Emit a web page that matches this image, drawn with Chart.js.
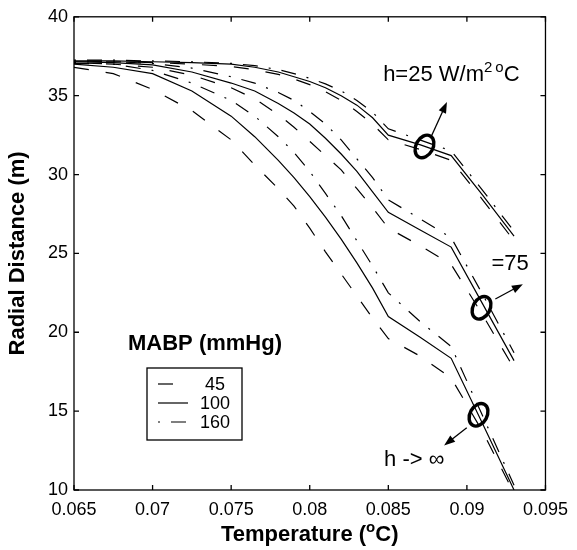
<!DOCTYPE html>
<html>
<head>
<meta charset="utf-8">
<script src="https://cdn.jsdelivr.net/npm/chart.js@4.4.1/dist/chart.umd.min.js"></script>
<style>
  html, body { margin: 0; padding: 0; background: #fff; }
</style>
</head>
<body>
<canvas id="chart" width="577" height="550"></canvas>
<script>
// temperature grid shared by all curves
const temps = [0.065, 0.0675, 0.070, 0.0725, 0.075, 0.0765, 0.078, 0.079, 0.080, 0.081, 0.082, 0.083, 0.084, 0.085, 0.087, 0.089, 0.091, 0.093];

// h = 25 W/m2 oC
const h25_45  = [37.15, 37.15, 37.1, 37.0, 36.85, 36.65, 36.35, 36.05, 35.7, 35.25, 34.7, 34.0, 33.2, 32.2, 31.6, 30.9, 28.4, 25.8];
const h25_100 = [37.2, 37.2, 37.15, 37.1, 37.0, 36.8, 36.5, 36.2, 35.9, 35.5, 35.0, 34.4, 33.6, 32.5, 31.9, 31.2, 28.7, 26.1];
const h25_160 = [37.25, 37.25, 37.2, 37.15, 37.05, 36.9, 36.65, 36.4, 36.1, 35.75, 35.3, 34.7, 33.95, 32.9, 32.2, 31.5, 29.0, 26.4];

// h = 75
const h75_45  = [37.05, 37.0, 36.8, 36.3, 35.5, 34.8, 33.8, 33.0, 32.1, 31.2, 30.3, 29.1, 27.9, 26.6, 25.5, 24.3, 21.1, 17.7];
const h75_100 = [37.15, 37.1, 36.95, 36.5, 35.8, 35.3, 34.5, 33.9, 33.2, 32.3, 31.3, 30.2, 28.9, 27.6, 26.5, 25.4, 21.8, 18.2];
const h75_160 = [37.2, 37.15, 37.05, 36.75, 36.2, 35.8, 35.2, 34.7, 34.0, 33.2, 32.2, 31.0, 29.8, 28.4, 27.2, 26.0, 22.4, 18.7];

// h -> infinity
const hinf_45  = [36.8, 36.4, 35.4, 34.05, 32.2, 30.6, 29.1, 28.0, 26.6, 25.1, 23.7, 22.3, 20.9, 19.6, 18.5, 17.1, 13.7, 9.8];
const hinf_100 = [37.0, 36.8, 36.4, 35.3, 33.7, 32.4, 30.9, 29.8, 28.6, 27.3, 25.9, 24.4, 22.8, 21.0, 19.7, 18.35, 14.2, 10.0];
const hinf_160 = [37.1, 37.0, 36.6, 35.8, 34.7, 33.7, 32.4, 31.4, 30.2, 28.8, 27.4, 25.8, 24.2, 22.5, 20.7, 19.1, 14.7, 10.3];

const mabpLabels = ['45', '100', '160'];
const xTicks = [0.065, 0.07, 0.075, 0.08, 0.085, 0.09, 0.095];
const xTickLabels = ['0.065', '0.07', '0.075', '0.08', '0.085', '0.09', '0.095'];
const yTicks = [10, 15, 20, 25, 30, 35, 40];

const FONT = '"Liberation Sans", Arial, Helvetica, sans-serif';
const dashes = [[15, 17], [], [2, 11, 15, 11]];

function pts(arr) {
    return temps.map((t, i) => ({x: t, y: arr[i]}));
}

const groups = [
    [h25_45, h25_100, h25_160],
    [h75_45, h75_100, h75_160],
    [hinf_45, hinf_100, hinf_160],
];
const datasets = [];
groups.forEach(g => {
    g.forEach((arr, k) => {
        datasets.push({
            label: mabpLabels[k],
            data: pts(arr),
            borderColor: '#000',
            borderWidth: 1.2,
            borderDash: dashes[k],
            pointRadius: 0,
            fill: false,
            tension: 0,
        });
    });
});

function arrow(ctx, x1, y1, x2, y2) {
    const a = Math.atan2(y2 - y1, x2 - x1);
    ctx.beginPath();
    ctx.moveTo(x1, y1);
    ctx.lineTo(x2 - 6 * Math.cos(a), y2 - 6 * Math.sin(a));
    ctx.stroke();
    ctx.beginPath();
    ctx.moveTo(x2, y2);
    ctx.lineTo(x2 - 11 * Math.cos(a) + 4 * Math.sin(a), y2 - 11 * Math.sin(a) - 4 * Math.cos(a));
    ctx.lineTo(x2 - 11 * Math.cos(a) - 4 * Math.sin(a), y2 - 11 * Math.sin(a) + 4 * Math.cos(a));
    ctx.closePath();
    ctx.fill();
}

// draws pieces of text one after another, some raised (superscripts)
function richText(ctx, parts, x, y, align) {
    let w = 0;
    parts.forEach(p => { ctx.font = p.font; w += ctx.measureText(p.t).width + (p.gap || 0); });
    let cx = align === 'center' ? x - w / 2 : x;
    ctx.textAlign = 'left';
    parts.forEach(p => {
        ctx.font = p.font;
        ctx.fillText(p.t, cx, y - (p.dy || 0));
        cx += ctx.measureText(p.t).width + (p.gap || 0);
    });
}

const framePlugin = {
    id: 'frame',
    afterDraw(chart) {
        const ctx = chart.ctx;
        const a = chart.chartArea;
        const xs = chart.scales.x, ys = chart.scales.y;
        ctx.save();
        ctx.strokeStyle = '#000';
        ctx.fillStyle = '#000';
        ctx.lineWidth = 1.3;
        ctx.strokeRect(a.left, a.top, a.right - a.left, a.bottom - a.top);

        // inward ticks on all four sides
        ctx.beginPath();
        xTicks.forEach(v => {
            const px = xs.getPixelForValue(v);
            ctx.moveTo(px, a.bottom); ctx.lineTo(px, a.bottom - 5);
            ctx.moveTo(px, a.top); ctx.lineTo(px, a.top + 5);
        });
        yTicks.forEach(v => {
            const py = ys.getPixelForValue(v);
            ctx.moveTo(a.left, py); ctx.lineTo(a.left + 5, py);
            ctx.moveTo(a.right, py); ctx.lineTo(a.right - 5, py);
        });
        ctx.stroke();

        // axis titles
        ctx.textBaseline = 'middle';
        ctx.save();
        ctx.translate(18, (a.top + a.bottom) / 2);
        ctx.rotate(-Math.PI / 2);
        ctx.font = 'bold 22px ' + FONT;
        ctx.textAlign = 'center';
        ctx.fillText('Radial Distance (m)', 0, 0);
        ctx.restore();

        ctx.textBaseline = 'alphabetic';
        richText(ctx, [
            {t: 'Temperature (', font: 'bold 22px ' + FONT},
            {t: 'o', font: 'bold 15px ' + FONT, dy: 9},
            {t: 'C)', font: 'bold 22px ' + FONT},
        ], (a.left + a.right) / 2, 541, 'center');

        // legend
        ctx.font = 'bold 22px ' + FONT;
        ctx.textAlign = 'center';
        ctx.fillText('MABP (mmHg)', 205, 350);
        ctx.lineWidth = 1.3;
        ctx.strokeRect(147, 368, 95, 72);
        ctx.font = '18px ' + FONT;
        ctx.textBaseline = 'middle';
        mabpLabels.forEach((lab, k) => {
            const y = 384 + k * 19;
            ctx.save();
            ctx.lineWidth = 1.2;
            ctx.setLineDash(dashes[k]);
            ctx.beginPath();
            ctx.moveTo(158, y); ctx.lineTo(188, y);
            ctx.stroke();
            ctx.restore();
            ctx.textAlign = 'center';
            ctx.fillText(lab, 215, y + 1);
        });

        // annotations
        ctx.textBaseline = 'alphabetic';
        const X = v => xs.getPixelForValue(v), Y = v => ys.getPixelForValue(v);
        richText(ctx, [
            {t: 'h=25 W/m', font: '22px ' + FONT},
            {t: '2', font: '15px ' + FONT, dy: 9, gap: 3},
            {t: 'o', font: '15px ' + FONT, dy: 9},
            {t: 'C', font: '22px ' + FONT},
        ], X(0.08467), Y(35.92), 'left');
        ctx.font = '22px ' + FONT;
        ctx.textAlign = 'left';
        ctx.fillText('=75', X(0.09156), Y(23.93));
        ctx.fillText('h -> \u221e', X(0.08473), Y(11.5));

        ctx.lineWidth = 1.3;
        arrow(ctx, X(0.08773), Y(32.41), X(0.08873), Y(34.6));
        arrow(ctx, X(0.09181), Y(22.11), X(0.09356), Y(23.05));
        arrow(ctx, X(0.08999), Y(13.95), X(0.08855), Y(12.82));

        ctx.lineWidth = 3.4;
        [[0.0873, 31.78], [0.09093, 21.55], [0.09074, 14.77]].forEach(p => {
            ctx.beginPath();
            ctx.ellipse(X(p[0]), Y(p[1]), 8.5, 12, 0.5, 0, Math.PI * 2);
            ctx.stroke();
        });
        ctx.restore();
    }
};

const tickFont = {family: FONT, size: 18};

new Chart(document.getElementById('chart'), {
    type: 'line',
    data: {datasets},
    options: {
        responsive: false,
        animation: false,
        devicePixelRatio: 1,
        layout: {padding: {left: 0, right: 24, top: 12, bottom: 0}},
        plugins: {legend: {display: false}, tooltip: {enabled: false}},
        scales: {
            x: {
                type: 'linear',
                min: 0.065,
                max: 0.095,
                afterBuildTicks: s => { s.ticks = xTicks.map(v => ({value: v})); },
                afterFit: s => { s.height = 60; },
                ticks: {
                    callback: (v, i) => xTickLabels[i],
                    color: '#000',
                    font: tickFont,
                    padding: 9,
                    maxRotation: 0,
                    autoSkip: false,
                },
                grid: {display: false, drawTicks: false},
                border: {display: false},
            },
            y: {
                type: 'linear',
                min: 10,
                max: 40,
                afterBuildTicks: s => { s.ticks = yTicks.map(v => ({value: v})); },
                afterFit: s => { s.width = 74; },
                ticks: {
                    callback: v => String(v),
                    color: '#000',
                    font: tickFont,
                    padding: 6,
                    autoSkip: false,
                },
                grid: {display: false, drawTicks: false},
                border: {display: false},
            }
        }
    },
    plugins: [framePlugin]
});
</script>
</body>
</html>
